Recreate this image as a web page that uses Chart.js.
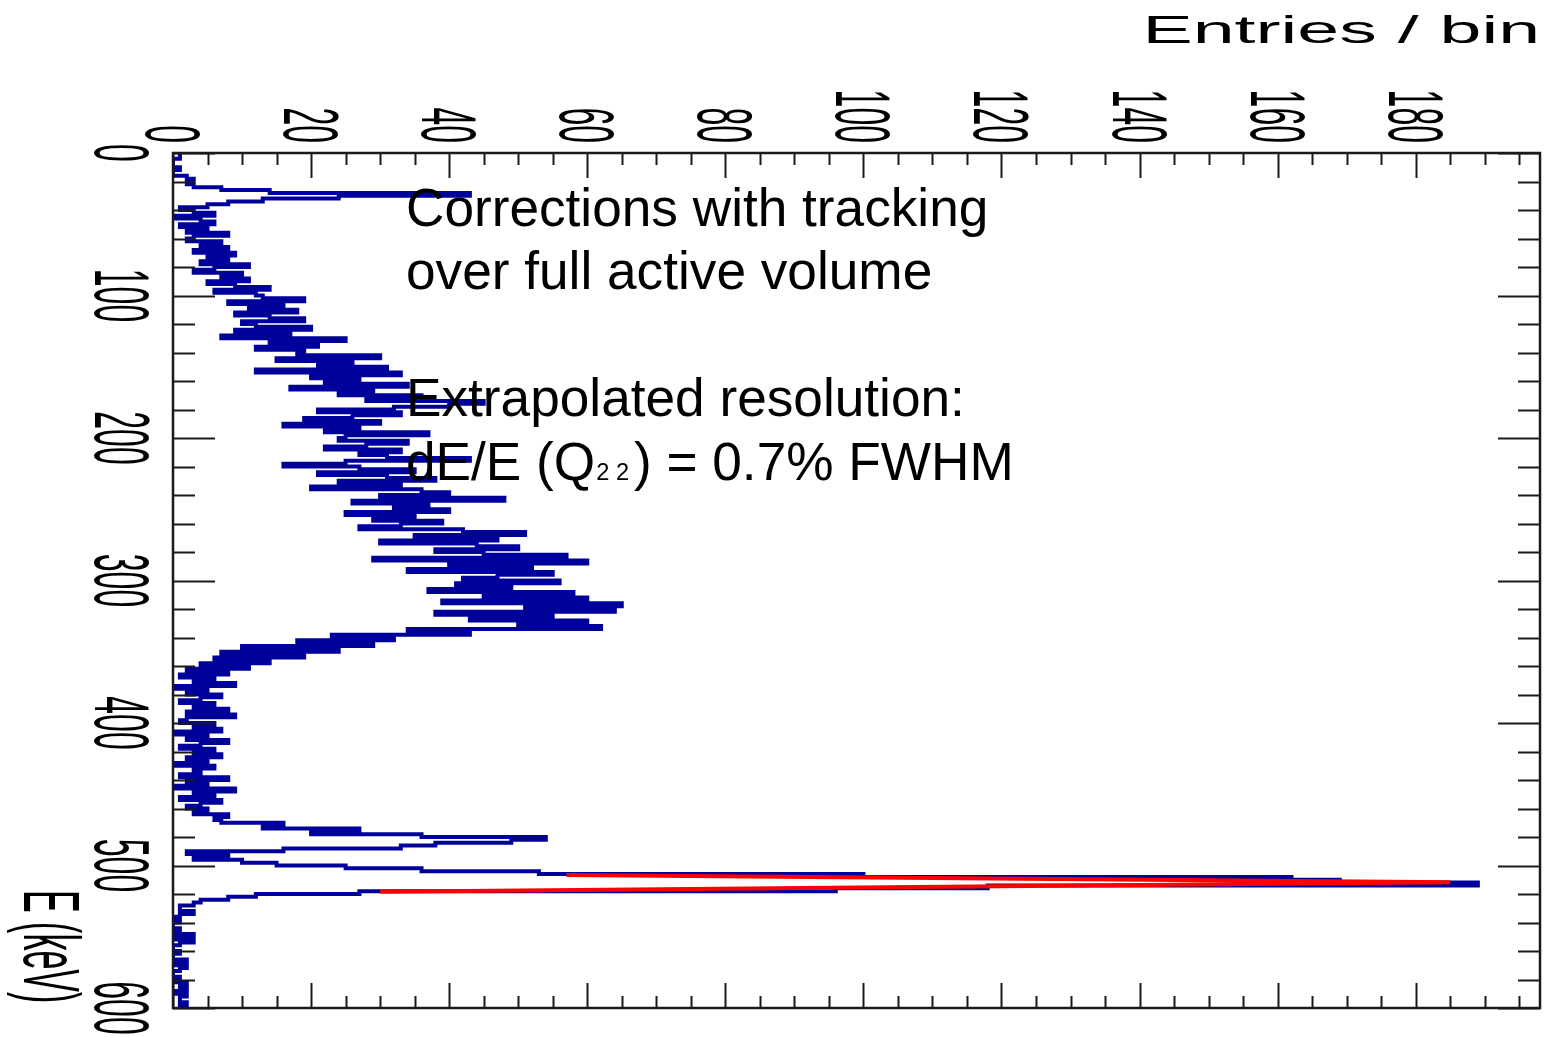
<!DOCTYPE html>
<html>
<head>
<meta charset="utf-8">
<script src="https://cdn.jsdelivr.net/npm/chart.js@4/dist/chart.umd.min.js"></script>
<style>
  html, body { margin: 0; padding: 0; background: #ffffff; }
  canvas { display: block; }
</style>
</head>
<body>
<canvas id="spectrum" width="1546" height="1037"></canvas>
<script>
// Energy histogram: 2 keV bins starting at 0 keV
const binLowEdge = 0;
const binWidth = 2;
const entries = [
  1, 1, 0, 0, 0, 1, 0, 0, 2, 3,
  2, 3, 7, 14, 43, 24, 13, 8,
  5, 1, 3, 6, 0, 4, 6, 1, 5, 2, 8, 3,
  2, 7, 4, 8,
  3, 9, 5, 8,
  4, 11, 6, 3, 10, 7, 11, 5,
  9, 14, 6, 12,
  13, 19, 8, 16, 11, 18, 9, 14, 19, 10,
  12, 20, 9, 17, 7, 25, 14, 21, 12, 19,
  18, 30, 15, 26, 21, 31, 12, 33, 20, 27,
  22, 34, 17, 29, 24, 36, 28, 45, 40, 32,
  21, 33, 26, 19, 30, 16, 27, 22, 37, 25,
  24, 34, 28, 22, 33, 27, 31, 43, 25, 16,
  27, 35, 21, 31, 38, 24, 33, 20, 36, 40,
  30, 48, 26, 37, 32, 40, 25, 35, 29, 39,
  33, 27, 42, 51, 35, 47, 30, 44, 50, 38,
  45, 57, 29, 60, 40, 52, 34, 55, 47, 42,
  56, 41, 49, 37, 58, 45, 60, 39, 65, 51,
  64, 38, 55, 43, 60,
  50, 62, 34, 43, 23,
  32, 18, 29, 10, 24, 7, 19, 6, 14, 4, 11, 2,
  8, 1, 6, 3, 9, 0, 5, 2, 7, 4, 1, 6, 3, 8, 2, 9, 2, 1, 6, 3,
  7, 0, 5, 2, 8, 4, 1, 6, 3, 7, 2, 5, 0, 6, 3,
  4, 1, 8, 2, 5, 0, 9, 3, 6, 1, 7, 4, 2, 5, 3, 8, 6,
  7, 16, 13, 27, 20, 36, 54, 49, 38, 33,
  16, 2, 8, 3, 10, 15, 25, 36, 53, 100, 162, 169, 189, 118, 96, 27, 12, 8, 4, 3, 1,
  1, 3, 1, 0, 1, 0, 0, 1, 0, 3, 0, 3, 1, 0, 0, 1, 0, 0, 2, 0,
  2, 1, 0, 0, 1, 0, 2, 1, 2, 0, 2, 1, 1, 2, 1
];

// Peak fit curve (energy in keV, entries)
const fitEnergy = [506.6, 511.7, 518.5];
const fitEntries = [57, 185, 30];

// Axis tick labels
const entriesTicks = [0, 20, 40, 60, 80, 100, 120, 140, 160, 180];
const energyTicks = [0, 100, 200, 300, 400, 500, 600];

// Text panel
const noteLines = [
  'Corrections with tracking',
  'over full active volume',
  'Extrapolated resolution:'
];
const resolutionText = { pre: 'dE/E (Q', sub: '2 2', post: ') = 0.7% FWHM' };
const entriesTitle = 'Entries / bin';
const energyTitle = 'E (keV)';

// Histogram outline as a step path: each bin is a segment at its count
const histPoints = [];
entries.forEach((c, i) => {
  const lo = binLowEdge + i * binWidth;
  histPoints.push({ x: c, y: lo }, { x: c, y: lo + binWidth });
});
const fitPoints = fitEnergy.map((e, i) => ({ x: fitEntries[i], y: e }));

const FONT = '"Liberation Sans", Arial, Helvetica, sans-serif';

function rotatedText(ctx, text, x, y, align, size, stretch) {
  ctx.save();
  ctx.translate(x, y);
  ctx.rotate(Math.PI / 2);
  ctx.scale(1, stretch);
  ctx.font = size + 'px ' + FONT;
  ctx.textAlign = align;
  ctx.textBaseline = 'alphabetic';
  ctx.fillStyle = '#000000';
  ctx.fillText(text, 0, 0);
  ctx.restore();
}

const framePlugin = {
  id: 'frameAndLabels',
  afterDatasetsDraw(chart) {
    const ctx = chart.ctx;
    const a = chart.chartArea;
    const xs = chart.scales.x;
    const ys = chart.scales.y;
    ctx.save();
    ctx.strokeStyle = '#1a1a1a';
    ctx.lineWidth = 2.5;
    ctx.strokeRect(a.left, a.top, a.right - a.left, a.bottom - a.top);

    ctx.lineWidth = 2;
    ctx.beginPath();
    // entries axis ticks (top and bottom edges)
    for (let v = 0; v <= xs.max; v += 5) {
      const px = Math.round(xs.getPixelForValue(v)) + 0.5;
      const len = (v % 20 === 0) ? 25 : 12;
      ctx.moveTo(px, a.top); ctx.lineTo(px, a.top + len);
      ctx.moveTo(px, a.bottom); ctx.lineTo(px, a.bottom - len);
    }
    // energy axis ticks (left and right edges)
    for (let v = 0; v <= ys.max; v += 20) {
      const py = Math.round(ys.getPixelForValue(v)) + 0.5;
      const len = (v % 100 === 0) ? 42 : 22;
      ctx.moveTo(a.left, py); ctx.lineTo(a.left + len, py);
      ctx.moveTo(a.right, py); ctx.lineTo(a.right - len, py);
    }
    ctx.stroke();
    ctx.restore();

    // tick labels
    entriesTicks.forEach(v => {
      const px = xs.getPixelForValue(v);
      rotatedText(ctx, String(v), px - 27, a.top - 10, 'right', 32, 2.45);
    });
    energyTicks.forEach(v => {
      const py = ys.getPixelForValue(v);
      rotatedText(ctx, String(v), 95, py, 'center', 32, 2.45);
    });
    rotatedText(ctx, energyTitle, 24, 890, 'left', 34, 2.35);

    // entries title, stretched horizontally
    ctx.save();
    ctx.scale(1.93, 1);
    ctx.font = '39px ' + FONT;
    ctx.fillStyle = '#000000';
    ctx.textAlign = 'right';
    ctx.textBaseline = 'alphabetic';
    ctx.fillText(entriesTitle, 1540 / 1.93, 43);
    ctx.restore();

    // annotation text
    ctx.save();
    ctx.fillStyle = '#000000';
    ctx.textBaseline = 'alphabetic';
    ctx.textAlign = 'left';
    ctx.translate(406, 0);
    ctx.scale(0.985, 1);
    ctx.font = '54px ' + FONT;
    const baselines = [226, 289, 416];
    noteLines.forEach((t, i) => ctx.fillText(t, 0, baselines[i]));
    let x = 0;
    const yb = 480;
    ctx.fillText(resolutionText.pre, x, yb);
    x += ctx.measureText(resolutionText.pre).width + 1;
    ctx.font = '24px ' + FONT;
    ctx.fillText(resolutionText.sub, x, yb);
    x += ctx.measureText(resolutionText.sub).width + 5;
    ctx.font = '54px ' + FONT;
    ctx.fillText(resolutionText.post, x, yb);
    ctx.restore();
  }
};

new Chart(document.getElementById('spectrum'), {
  type: 'scatter',
  data: {
    datasets: [
      {
        label: 'data',
        data: histPoints,
        order: 1,
        showLine: true,
        borderColor: '#00009a',
        borderWidth: 4,
        pointRadius: 0,
        tension: 0,
        fill: false
      },
      {
        label: 'fit',
        data: fitPoints,
        order: 0,
        showLine: true,
        borderColor: '#ff0000',
        borderWidth: 4,
        pointRadius: 0,
        tension: 0,
        fill: false
      }
    ]
  },
  options: {
    responsive: false,
    devicePixelRatio: 1,
    animation: false,
    events: [],
    layout: { padding: { left: 173, top: 153, right: 6, bottom: 29 } },
    plugins: { legend: { display: false }, tooltip: { enabled: false } },
    scales: {
      x: { type: 'linear', min: 0, max: 198, display: false },
      y: { type: 'linear', min: 0, max: 600, reverse: true, display: false }
    }
  },
  plugins: [framePlugin]
});
</script>
</body>
</html>
